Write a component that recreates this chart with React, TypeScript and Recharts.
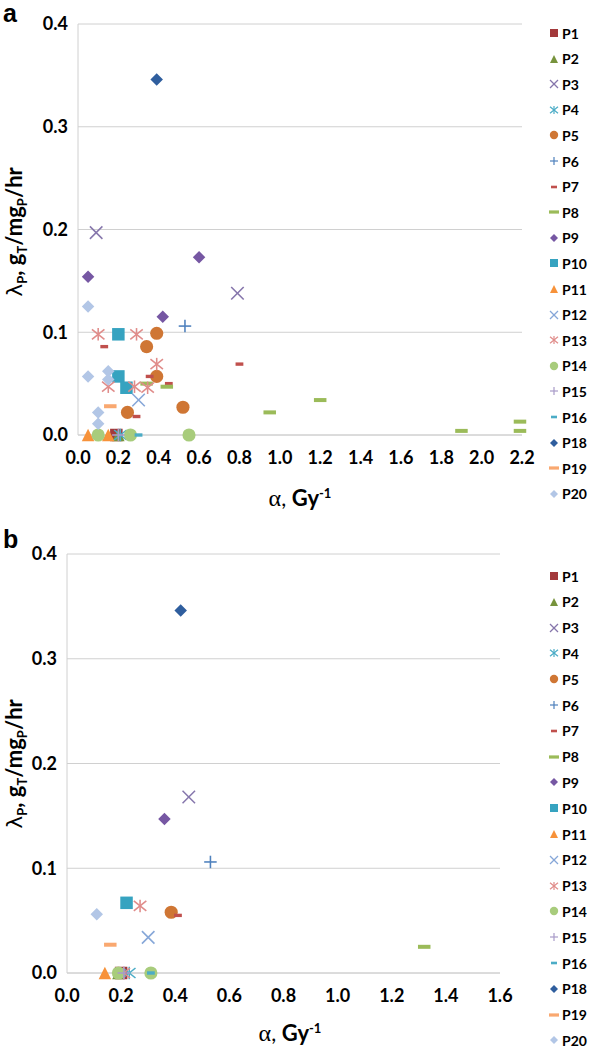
import { ScatterChart, Scatter, XAxis, YAxis, CartesianGrid } from "recharts";

type Pair = [number, number];

// series names (there is no P17)
const NAMES = ["P1", "P2", "P3", "P4", "P5", "P6", "P7", "P8", "P9", "P10", "P11", "P12", "P13", "P14", "P15", "P16", "P18", "P19", "P20"];

// panel a: [alpha, lambda]
const A_P1: Pair[] = [[0.19, 0]];
const A_P2: Pair[] = [[0.2, 0]];
const A_P3: Pair[] = [[0.09, 0.197], [0.79, 0.138]];
const A_P4: Pair[] = [[0.21, 0]];
const A_P5: Pair[] = [[0.39, 0.099], [0.34, 0.086], [0.39, 0.057], [0.245, 0.022], [0.52, 0.027]];
const A_P6: Pair[] = [[0.53, 0.106]];
const A_P7: Pair[] = [[0.13, 0.086], [0.355, 0.057], [0.45, 0.05], [0.29, 0.018], [0.8, 0.069]];
const A_P8: Pair[] = [[0.34, 0.05], [0.44, 0.047], [0.95, 0.022], [1.2, 0.034], [1.9, 0.004], [2.19, 0.013], [2.19, 0.004]];
const A_P9: Pair[] = [[0.05, 0.154], [0.6, 0.173], [0.42, 0.115]];
const A_P10: Pair[] = [[0.2, 0.098], [0.2, 0.057], [0.24, 0.046]];
const A_P11: Pair[] = [[0.05, 0], [0.15, 0]];
const A_P12: Pair[] = [[0.3, 0.034]];
const A_P13: Pair[] = [[0.1, 0.098], [0.29, 0.098], [0.39, 0.069], [0.15, 0.047], [0.28, 0.047], [0.345, 0.046]];
const A_P14: Pair[] = [[0.1, 0], [0.26, 0], [0.55, 0]];
const A_P15: Pair[] = [[0.2, 0]];
const A_P16: Pair[] = [[0.3, 0]];
const A_P18: Pair[] = [[0.39, 0.346]];
const A_P19: Pair[] = [[0.16, 0.028]];
const A_P20: Pair[] = [[0.05, 0.125], [0.05, 0.057], [0.15, 0.062], [0.15, 0.054], [0.1, 0.022], [0.1, 0.011]];

// panel b
const B_P1: Pair[] = [[0.2, 0]];
const B_P2: Pair[] = [[0.19, 0]];
const B_P3: Pair[] = [[0.45, 0.168]];
const B_P4: Pair[] = [[0.23, 0]];
const B_P5: Pair[] = [[0.385, 0.058]];
const B_P6: Pair[] = [[0.53, 0.106]];
const B_P7: Pair[] = [[0.41, 0.055]];
const B_P8: Pair[] = [[1.32, 0.025]];
const B_P9: Pair[] = [[0.36, 0.147]];
const B_P10: Pair[] = [[0.22, 0.067]];
const B_P11: Pair[] = [[0.14, 0]];
const B_P12: Pair[] = [[0.3, 0.034]];
const B_P13: Pair[] = [[0.27, 0.064], [0.21, 0]];
const B_P14: Pair[] = [[0.19, 0], [0.31, 0]];
const B_P15: Pair[] = [[0.21, 0]];
const B_P16: Pair[] = [[0.31, 0]];
const B_P18: Pair[] = [[0.42, 0.346]];
const B_P19: Pair[] = [[0.16, 0.027]];
const B_P20: Pair[] = [[0.11, 0.056]];

const PANEL_A = [A_P1, A_P2, A_P3, A_P4, A_P5, A_P6, A_P7, A_P8, A_P9, A_P10, A_P11, A_P12, A_P13, A_P14, A_P15, A_P16, A_P18, A_P19, A_P20];
const PANEL_B = [B_P1, B_P2, B_P3, B_P4, B_P5, B_P6, B_P7, B_P8, B_P9, B_P10, B_P11, B_P12, B_P13, B_P14, B_P15, B_P16, B_P18, B_P19, B_P20];

const Y_TICKS = [0, 0.1, 0.2, 0.3, 0.4];
const A_X_TICKS = [0, 0.2, 0.4, 0.6, 0.8, 1.0, 1.2, 1.4, 1.6, 1.8, 2.0, 2.2];
const B_X_TICKS = [0, 0.2, 0.4, 0.6, 0.8, 1.0, 1.2, 1.4, 1.6];

const KINDS = ["square", "triangle", "x", "star", "circle", "plus", "short", "dash", "diamond", "square", "triangle", "x", "star", "circle", "plus", "short", "diamond", "dash", "diamond"];
const COLORS = ["#A3393B", "#77933C", "#8676AC", "#4BACC6", "#CF7634", "#4F81BD", "#C0504D", "#9BBB59", "#7657A3", "#36A3C0", "#F7923A", "#86A7D8", "#E08C8A", "#A8CC7C", "#A89BC8", "#4BACC6", "#2F5E9E", "#F9A870", "#B2C6E6"];

const FONT = "Lato, 'Open Sans', sans-serif";
const GRID = "#D0D0D0";

function Mark({ cx, cy, kind, color, s }: { cx: number; cy: number; kind: string; color: string; s: number }) {
  const h = s / 2;
  const sw = Math.max(1.2, s / 8);
  switch (kind) {
    case "square":
      return <rect x={cx - h} y={cy - h} width={s} height={s} fill={color} />;
    case "triangle":
      return <polygon points={`${cx},${cy - h} ${cx + h},${cy + h} ${cx - h},${cy + h}`} fill={color} />;
    case "circle":
      return <circle cx={cx} cy={cy} r={h * 1.05} fill={color} />;
    case "diamond":
      return <polygon points={`${cx},${cy - h} ${cx + h},${cy} ${cx},${cy + h} ${cx - h},${cy}`} fill={color} />;
    case "x":
      return (
        <g stroke={color} strokeWidth={sw}>
          <line x1={cx - h} y1={cy - h} x2={cx + h} y2={cy + h} />
          <line x1={cx - h} y1={cy + h} x2={cx + h} y2={cy - h} />
        </g>
      );
    case "star":
      return (
        <g stroke={color} strokeWidth={sw}>
          <line x1={cx - h} y1={cy - h * 0.8} x2={cx + h} y2={cy + h * 0.8} />
          <line x1={cx - h} y1={cy + h * 0.8} x2={cx + h} y2={cy - h * 0.8} />
          <line x1={cx} y1={cy - h} x2={cx} y2={cy + h} />
        </g>
      );
    case "plus":
      return (
        <g stroke={color} strokeWidth={sw}>
          <line x1={cx - h} y1={cy} x2={cx + h} y2={cy} />
          <line x1={cx} y1={cy - h} x2={cx} y2={cy + h} />
        </g>
      );
    case "short":
      return <rect x={cx - s * 0.3} y={cy - s * 0.13} width={s * 0.6} height={s * 0.26} fill={color} />;
    default:
      return <rect x={cx - h} y={cy - s * 0.16} width={s} height={s * 0.32} fill={color} />;
  }
}

function Legend({ top, gap }: { top: number; gap: number }) {
  return (
    <div style={{ position: "absolute", left: 548, top, fontFamily: FONT, fontWeight: 700, fontSize: 14 }}>
      {NAMES.map((n, i) => (
        <div key={n} style={{ position: "absolute", top: i * gap, left: 0, display: "flex", alignItems: "center", height: 16, marginTop: -8, whiteSpace: "nowrap" }}>
          <svg width={12} height={12} style={{ marginRight: 2 }}>
            <Mark cx={6} cy={6} kind={KINDS[i]} color={COLORS[i]} s={KINDS[i] === "dash" || KINDS[i] === "short" ? 10 : 8} />
          </svg>
          <span>{n}</span>
        </div>
      ))}
    </div>
  );
}

function Panel({ data, ticks, max, width, height, margin }: { data: Pair[][]; ticks: number[]; max: number; width: number; height: number; margin: any }) {
  return (
    <ScatterChart width={width} height={height} margin={margin}>
      <CartesianGrid horizontal vertical={false} stroke={GRID} />
      <XAxis
        type="number"
        dataKey="x"
        domain={[0, max]}
        ticks={ticks}
        height={30}
        tickFormatter={(v: number) => v.toFixed(1)}
        tick={{ fontSize: 18, fontWeight: 700, fill: "#000", fontFamily: FONT }}
        tickLine={false}
        tickSize={0}
        tickMargin={16}
        axisLine={{ stroke: GRID }}
        interval={0}
      />
      <YAxis
        type="number"
        dataKey="y"
        domain={[0, 0.4]}
        ticks={Y_TICKS}
        width={40}
        tickFormatter={(v: number) => v.toFixed(1)}
        tick={{ fontSize: 18, fontWeight: 700, fill: "#000", fontFamily: FONT }}
        tickLine={false}
        tickSize={0}
        tickMargin={10}
        axisLine={{ stroke: GRID }}
        interval={0}
      />
      {data.map((pts, i) => (
        <Scatter
          key={NAMES[i]}
          name={NAMES[i]}
          data={pts.map(([x, y]) => ({ x, y }))}
          isAnimationActive={false}
          shape={(p: any) => <Mark cx={p.cx} cy={p.cy} kind={KINDS[i]} color={COLORS[i]} s={KINDS[i] === "short" ? 13 : 12.5} />}
        />
      ))}
    </ScatterChart>
  );
}

function YTitle({ top }: { top: number }) {
  return (
    <div
      style={{
        position: "absolute",
        left: 16,
        top,
        transform: "translate(-50%, -50%) rotate(-90deg)",
        whiteSpace: "nowrap",
        fontFamily: FONT,
        fontWeight: 700,
        fontSize: 22,
        lineHeight: 1,
      }}
    >
      <span style={{ fontFamily: "'DejaVu Sans', sans-serif", fontWeight: 400 }}>λ</span>
      <sub style={{ fontSize: 13 }}>P</sub>, g<sub style={{ fontSize: 13 }}>T</sub>/mg<sub style={{ fontSize: 13 }}>P</sub>/hr
    </div>
  );
}

function XTitle({ left, top }: { left: number; top: number }) {
  return (
    <div style={{ position: "absolute", left, top, transform: "translate(-50%, -50%)", whiteSpace: "nowrap", fontFamily: FONT, fontSize: 22, lineHeight: 1 }}>
      <span style={{ fontFamily: "'Liberation Serif', serif", fontSize: 24 }}>α</span>, <span style={{ fontWeight: 700 }}>Gy</span>
      <sup style={{ fontSize: 13, fontWeight: 700 }}>-1</sup>
    </div>
  );
}

export default function App() {
  return (
    <div style={{ position: "absolute", left: 0, top: 0, width: 589, height: 1050, background: "#fff", overflow: "hidden" }}>
      <div style={{ position: "absolute", left: 0, top: 0 }}>
        <Panel data={PANEL_A} ticks={A_X_TICKS} max={2.2} width={589} height={520} margin={{ top: 24, right: 67, bottom: 55, left: 38 }} />
      </div>
      <div style={{ position: "absolute", left: 0, top: 520 }}>
        <Panel data={PANEL_B} ticks={B_X_TICKS} max={1.6} width={589} height={530} margin={{ top: 34, right: 89, bottom: 47, left: 27 }} />
      </div>
      <div style={{ position: "absolute", left: 3, top: 1, lineHeight: 1, fontFamily: "'Liberation Sans', Arial, sans-serif", fontWeight: 700, fontSize: 25 }}>a</div>
      <div style={{ position: "absolute", left: 3, top: 527, lineHeight: 1, fontFamily: "'Liberation Sans', Arial, sans-serif", fontWeight: 700, fontSize: 25 }}>b</div>
      <YTitle top={232} />
      <YTitle top={764} />
      <XTitle left={300} top={498} />
      <XTitle left={290} top={1033} />
      <Legend top={33} gap={25.6} />
      <Legend top={576} gap={25.8} />
    </div>
  );
}
